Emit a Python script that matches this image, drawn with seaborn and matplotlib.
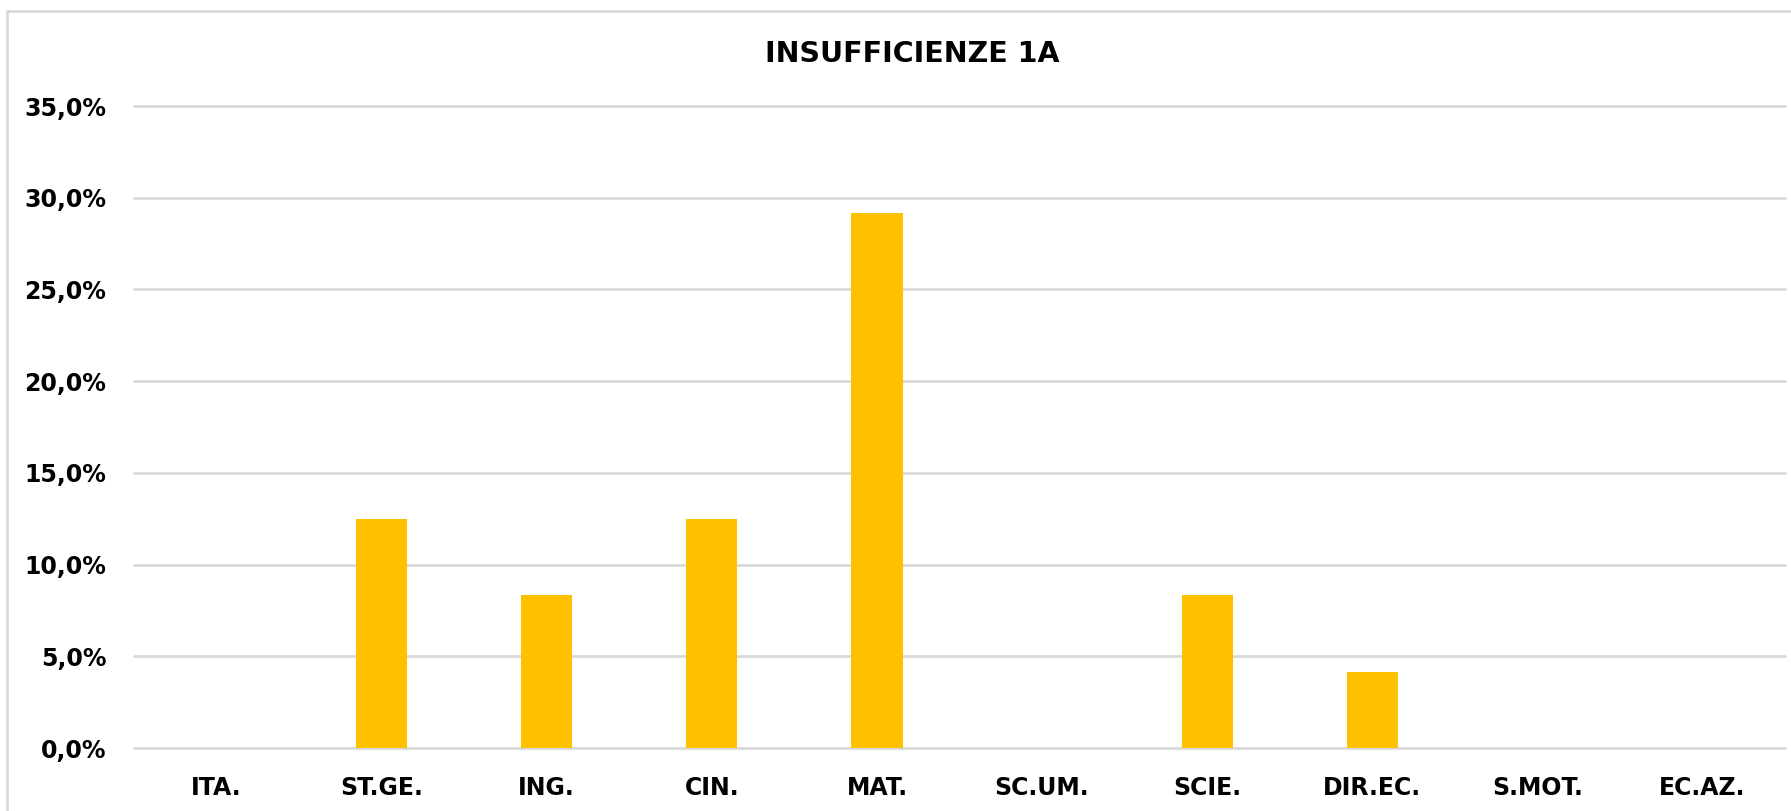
import matplotlib
matplotlib.use("Agg")
import matplotlib.pyplot as plt
import seaborn as sns
import pandas as pd
from matplotlib.patches import Rectangle
from matplotlib.ticker import FuncFormatter, MultipleLocator

# data
materie = ["ITA.", "ST.GE.", "ING.", "CIN.", "MAT.", "SC.UM.", "SCIE.", "DIR.EC.", "S.MOT.", "EC.AZ."]
insufficienze = [0.0, 0.125, 0.0833, 0.125, 0.2917, 0.0, 0.0833, 0.0417, 0.0, 0.0]

df = pd.DataFrame({"materia": materie, "perc": insufficienze})

sns.set_style("white")
plt.rcParams["font.family"] = ["DejaVu Sans"]
plt.rcParams["text.color"] = "black"
plt.rcParams["xtick.color"] = "black"
plt.rcParams["ytick.color"] = "black"

fig = plt.figure(figsize=(17.91, 8.11), dpi=100)
ax = fig.add_axes([134 / 1791, 1 - 748 / 811, 1 - 140 / 1791, 642 / 811])

sns.barplot(data=df, x="materia", y="perc", color="#FFC000", saturation=1,
            width=0.31, linewidth=0, ax=ax)

ax.set_ylim(0, 0.35)
ax.set_xlim(-0.5, len(materie) - 0.5)
ax.yaxis.set_major_locator(MultipleLocator(0.05))
ax.yaxis.set_major_formatter(FuncFormatter(lambda v, _: f"{v*100:.1f}%".replace(".", ",")))
ax.grid(axis="y", color="#d9d9d9", linewidth=2)
ax.set_axisbelow(True)
for gl in ax.get_ygridlines():
    gl.set_clip_on(False)
for s in ax.spines.values():
    s.set_visible(False)
ax.tick_params(axis="both", length=0, labelsize=17, labelcolor="black")
ax.tick_params(axis="y", pad=20)
ax.tick_params(axis="x", pad=20)
for lbl in ax.get_xticklabels() + ax.get_yticklabels():
    lbl.set_fontweight("bold")
ax.set_xlabel("")
ax.set_ylabel("")

fig.text(912 / 1791, 1 - 54 / 811, "INSUFFICIENZE 1A", ha="center", va="center",
         fontsize=20.5, fontweight="bold", color="black")

# chart border
fig.patches.append(Rectangle((7 / 1791, -0.01), 1.02, 1 - 11 / 811 + 0.01,
                             transform=fig.transFigure, fill=False,
                             edgecolor="#d9d9d9", linewidth=2))

fig.savefig("out.png", dpi=100)
